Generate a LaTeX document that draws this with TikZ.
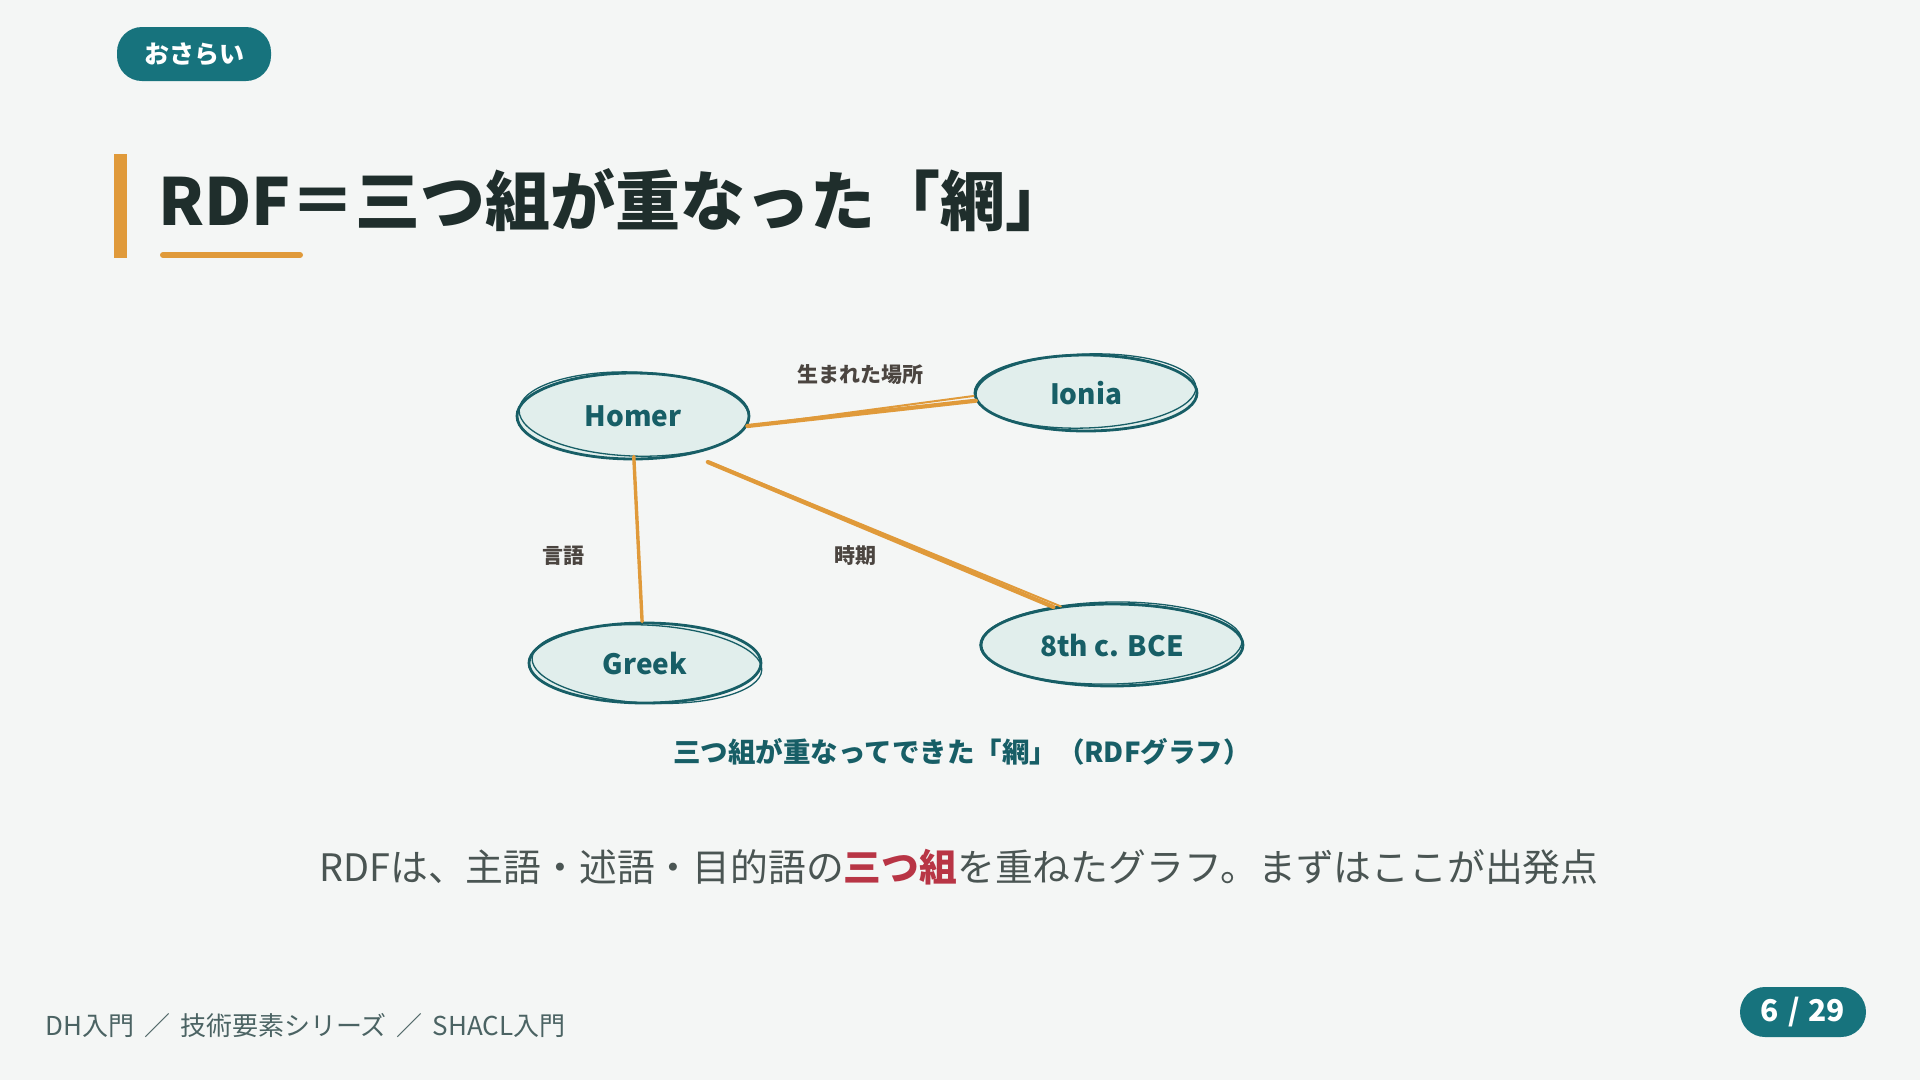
\documentclass[tikz,border=0pt]{standalone}
\usepackage{fontspec}
\setmainfont{Noto Sans CJK JP}
\usetikzlibrary{shapes.geometric}
\definecolor{bg}{HTML}{F4F6F5}
\definecolor{pill}{HTML}{17737D}
\definecolor{titlec}{HTML}{1F2E2C}
\definecolor{accent}{HTML}{E09A3A}
\definecolor{nborder}{HTML}{175E66}
\definecolor{nfill}{HTML}{E1EEEC}
\definecolor{lblc}{HTML}{4B4540}
\definecolor{bodyc}{HTML}{4A5553}
\definecolor{redc}{HTML}{B83545}
\definecolor{footc}{HTML}{4B6363}
\newcommand\setfs[1]{\fontsize{#1}{#1}\selectfont}
\begin{document}
\begin{tikzpicture}[x=1pt,y=-1pt,
  gnode/.style={ellipse, inner sep=0pt, fill=nfill, draw=nborder, line width=2.8pt,
    text=nborder, font=\setfs{28}\bfseries},
  sketch/.style={draw=nborder, line width=1.3pt},
  edge/.style={draw=accent, line width=4.2pt, line cap=round},
  edgethin/.style={draw=accent, line width=2pt, line cap=round},
  elabel/.style={text=lblc, font=\setfs{21}\bfseries, inner sep=0pt},
  pillbox/.style={fill=pill, rounded corners=25pt, text=white, inner sep=0pt}]
\useasboundingbox (0,0) rectangle (1920,1080);
\fill[bg] (0,0) rectangle (1920,1080);

% tag pill
\node[pillbox, minimum width=154pt, minimum height=54pt, font=\setfs{25}\bfseries] (tag) at (194,54) {おさらい};

% title
\fill[accent] (114,154) rectangle (127,258);
\node[anchor=west, inner sep=0pt, text=titlec, font=\setfs{65}\bfseries] (title) at (158,200) {RDF＝三つ組が重なった「網」};
\draw[accent, line width=6pt, line cap=round] (163,255) -- (300,255);

% graph nodes
\node[gnode, minimum width=232pt, minimum height=86pt] (homer) at (633,416) {Homer};
\node[gnode, minimum width=222pt, minimum height=76pt] (ionia) at (1086,393) {Ionia};
\node[gnode, minimum width=232pt, minimum height=80pt] (greek) at (645,663) {Greek};
\node[gnode, minimum width=262pt, minimum height=82pt] (bce) at (1112,645) {8th c. BCE};

% sketchy second strokes
\draw[sketch, rotate around={-2:(homer.center)}] ([shift={(1,-2)}]homer.center) ellipse [x radius=115, y radius=42];
\draw[sketch, rotate around={2:(ionia.center)}] ([shift={(0,-2)}]ionia.center) ellipse [x radius=110, y radius=37];
\draw[sketch, rotate around={-3:(greek.center)}] ([shift={(2,1)}]greek.center) ellipse [x radius=115, y radius=39];
\draw[sketch, rotate around={1:(bce.center)}] ([shift={(-1,-2)}]bce.center) ellipse [x radius=131, y radius=41];

% edges
\draw[edge] (homer.-5) -- (ionia.184);
\draw[edgethin] ([yshift=-2]homer.-4) -- ([yshift=-1]ionia.181);
\draw[edge, line width=3.4pt] ([yshift=4]homer.-89) -- (greek.94);
\draw[edge] ([shift={(14,8)}]homer.-32) -- (bce.147);
\draw[edgethin] ([shift={(16,8)}]homer.-32) -- ([xshift=4]bce.145);

% edge labels
\node[elabel] (l1) at (860,375) {生まれた場所};
\node[elabel] (l2) at (563,556) {言語};
\node[elabel] (l3) at (855,556) {時期};

% caption
\node[inner sep=0pt, text=nborder, font=\setfs{27.5}\bfseries] (cap) at (962,752) {三つ組が重なってできた「網」（RDFグラフ）};

% body sentence
\node[inner sep=0pt, text=bodyc, font=\setfs{37.8}] (body) at (959,867) {RDFは、主語・述語・目的語の{\bfseries\color{redc}三つ組}を重ねたグラフ。まずはここが出発点};

% footer
\node[anchor=west, inner sep=0pt, text=footc, font=\setfs{26}] (foot) at (45,1026) {DH入門\hspace{10pt}／\hspace{10pt}技術要素シリーズ\hspace{10pt}／\hspace{10pt}SHACL入門};
\node[pillbox, minimum width=126pt, minimum height=50pt, font=\setfs{30}\bfseries] (page) at (1803,1012) {6\hspace{9pt}/\hspace{9pt}29};
\end{tikzpicture}
\end{document}
